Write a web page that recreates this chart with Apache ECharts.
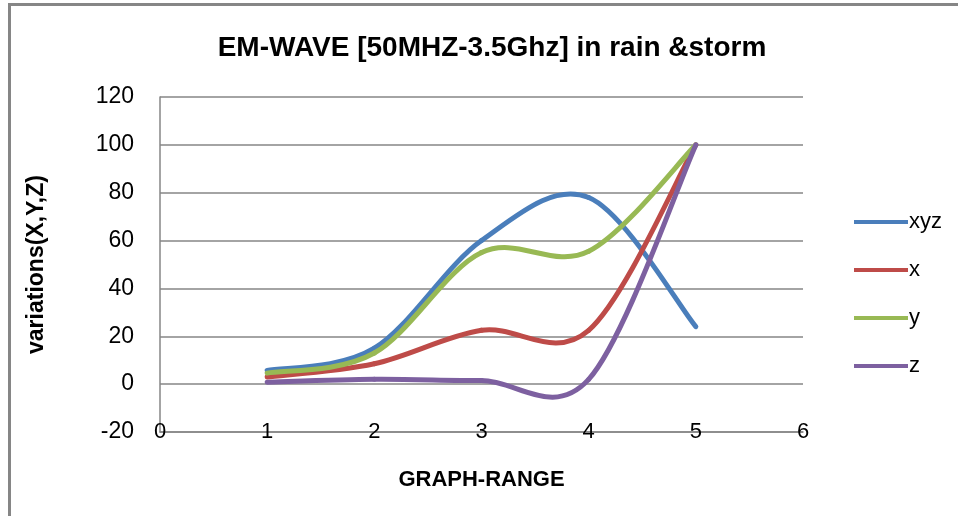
<!DOCTYPE html>
<html>
<head>
<meta charset="utf-8">
<script src="https://cdn.jsdelivr.net/npm/echarts@6/dist/echarts.min.js"></script>
<style>html,body{margin:0;padding:0;background:#fff}#c{width:958px;height:516px}</style>
</head>
<body>
<div id="c"></div>
<script>
const xValues = [1, 2, 3, 4, 5];
const xyz = [5.7, 15, 60, 78, 24];
const xs = [3, 8.5, 22.5, 22.5, 100];
const ys = [4.6, 13, 55, 55.5, 100];
const zs = [0.8, 2, 1.5, 2, 100];
const seriesNames = ['xyz', 'x', 'y', 'z'];
const colors = ['#4A7EBB', '#BE4B48', '#98B954', '#7D60A0'];
const titleText = 'EM-WAVE [50MHZ-3.5Ghz] in rain &storm';
const xName = 'GRAPH-RANGE';
const yName = 'variations(X,Y,Z)';

const font = "'Liberation Sans', Arial, sans-serif";
const gray = '#868686';
const allData = [xyz, xs, ys, zs];

// Spreadsheet-style smoothed line: cubic Bezier segments through the data points
function makeRenderItem(values, color) {
  return function (params, api) {
    const i = params.dataIndex;
    const n = xValues.length;
    if (i >= n - 1) return null;
    const P = k => {
      const kk = Math.max(0, Math.min(n - 1, k));
      return api.coord([xValues[kk], values[kk]]);
    };
    const p0 = P(i - 1), p1 = P(i), p2 = P(i + 1), p3 = P(i + 2);
    return {
      type: 'bezierCurve',
      shape: {
        x1: p1[0], y1: p1[1], x2: p2[0], y2: p2[1],
        cpx1: p1[0] + (p2[0] - p0[0]) / 6, cpy1: p1[1] + (p2[1] - p0[1]) / 6,
        cpx2: p2[0] - (p3[0] - p1[0]) / 6, cpy2: p2[1] - (p3[1] - p1[1]) / 6
      },
      style: {stroke: color, lineWidth: 5, fill: null, lineCap: 'round'}
    };
  };
}

const chart = echarts.init(document.getElementById('c'), null, {renderer: 'canvas'});
chart.setOption({
  animation: false,
  backgroundColor: '#fff',
  title: {
    text: titleText, left: 487, top: 29, textAlign: 'center',
    textStyle: {fontFamily: font, fontSize: 28, fontWeight: 'bold', color: '#000'}
  },
  graphic: [
    {type: 'line', shape: {x1: 9.5, y1: 4, x2: 9.5, y2: 516}, style: {stroke: gray, lineWidth: 3}},
    {type: 'line', shape: {x1: 8, y1: 4.5, x2: 958, y2: 4.5}, style: {stroke: gray, lineWidth: 3}}
  ],
  legend: {
    orient: 'vertical', left: 849, top: 206, itemGap: 26, itemWidth: 54, itemHeight: 24,
    icon: 'path://M0,10 L54,10 L54,14 L0,14 Z',
    textStyle: {fontFamily: font, fontSize: 22, color: '#000', padding: [0, 0, 0, -4]},
    data: seriesNames
  },
  grid: {left: 160, right: 155, top: 97, bottom: 84, containLabel: false},
  xAxis: {
    type: 'value', min: 0, max: 6, interval: 1,
    name: xName, nameLocation: 'middle', nameGap: 37,
    nameTextStyle: {fontFamily: font, fontSize: 22, fontWeight: 'bold', color: '#000'},
    axisLine: {show: true, onZero: false, lineStyle: {color: gray, width: 1.5}},
    axisTick: {show: false},
    splitLine: {show: false},
    axisLabel: {margin: 0, verticalAlign: 'middle', fontFamily: font, fontSize: 22, color: '#000'}
  },
  yAxis: {
    type: 'value', min: -20, max: 120, interval: 20,
    name: yName, nameLocation: 'middle', nameGap: 112, nameRotate: 90,
    nameTextStyle: {fontFamily: font, fontSize: 23, fontWeight: 'bold', color: '#000'},
    axisLine: {show: true, lineStyle: {color: gray, width: 1.5}},
    axisTick: {show: false},
    splitLine: {show: true, lineStyle: {color: gray, width: 1.5}},
    axisLabel: {margin: 26, fontFamily: font, fontSize: 23, color: '#000'}
  },
  series: seriesNames.map((n, i) => ({
    name: n, type: 'custom', coordinateSystem: 'cartesian2d',
    encode: {x: 0, y: 1},
    clip: false,
    data: xValues.map((x, j) => [x, allData[i][j]]),
    renderItem: makeRenderItem(allData[i], colors[i]),
    itemStyle: {color: colors[i]}
  }))
});
</script>
</body>
</html>
